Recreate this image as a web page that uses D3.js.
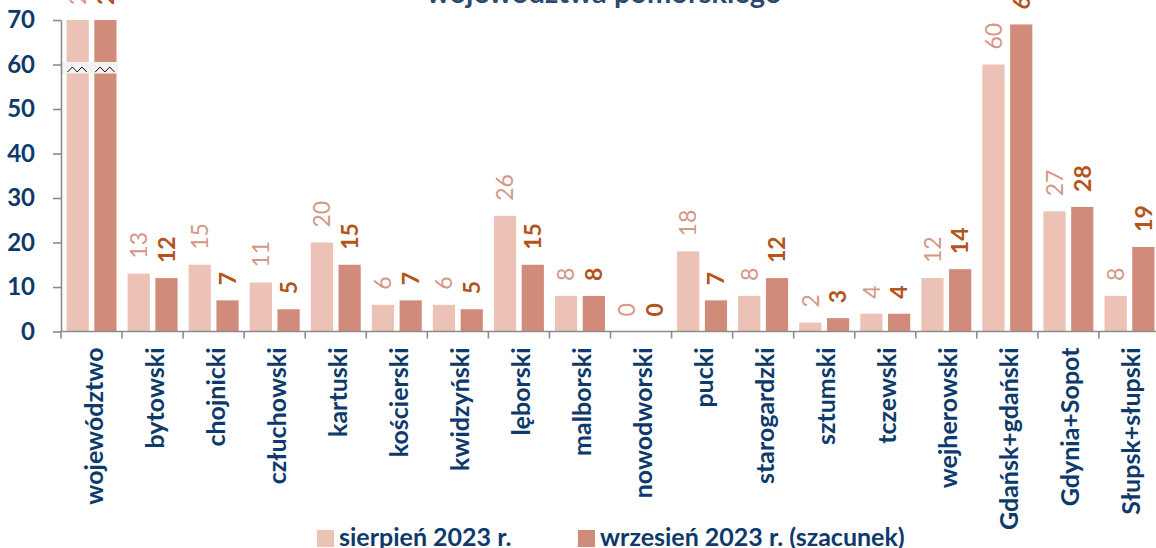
<!DOCTYPE html>
<html>
<head>
<meta charset="utf-8">
<script src="https://cdn.jsdelivr.net/npm/d3@7"></script>
<style>
  body { margin: 0; background: #fff; }
  svg { display: block; font-family: Lato, "Open Sans", sans-serif; }
</style>
</head>
<body>
<div id="chart"></div>
<script>
(function () {
  /* ----------------------- Data ----------------------- */
  const categories = [
    "województwo", "bytowski", "chojnicki", "człuchowski", "kartuski",
    "kościerski", "kwidzyński", "lęborski", "malborski", "nowodworski",
    "pucki", "starogardzki", "sztumski", "tczewski", "wejherowski",
    "Gdańsk+gdański", "Gdynia+Sopot", "Słupsk+słupski"
  ];
  const august = [244, 13, 15, 11, 20, 6, 6, 26, 8, 0, 18, 8, 2, 4, 12, 60, 27, 8];
  const september = [230, 12, 7, 5, 15, 7, 5, 15, 8, 0, 7, 12, 3, 4, 14, 69, 28, 19];
  const seriesNames = ["sierpień 2023 r.", "wrzesień 2023 r. (szacunek)"];
  const yTicks = [0, 10, 20, 30, 40, 50, 60, 70];
  const yMax = 70;
  const breakCategory = "województwo";

  /* ----------------------- Dimensions ----------------------- */
  const W = 1156, H = 548;
  const plot = { left: 61, right: 1160, top: 20, bottom: 331.5 };

  const barColors = ["#ecc1b6", "#d08b7a"];
  const labelColors = ["#d49888", "#b4541a"];
  const navy = "#0d3a6b";
  const axisGrey = "#8c8c8c";

  const svg = d3.select("#chart").append("svg")
    .attr("width", W).attr("height", H);

  const defs = svg.append("defs");
  defs.append("filter").attr("id", "soft")
    .attr("x", "-10%").attr("y", "-10%").attr("width", "120%").attr("height", "120%")
    .append("feGaussianBlur").attr("stdDeviation", 0.6);

  /* ----------------------- Scales ----------------------- */
  const x0 = d3.scaleBand().domain(categories).range([plot.left, plot.right]).padding(0);
  const x1 = d3.scaleBand().domain([0, 1]).range([0, x0.bandwidth()])
    .paddingInner(0.2).paddingOuter(0.2);
  const y = d3.scaleLinear().domain([0, yMax]).range([plot.bottom, plot.top]);

  const rows = categories.map((c, i) => ({ cat: c, vals: [august[i], september[i]] }));

  /* ----------------------- Title (cut at top) ----------------------- */
  svg.append("text")
    .attr("x", 604).attr("y", 3)
    .attr("text-anchor", "middle")
    .attr("font-size", 29).attr("font-weight", 700)
    .attr("fill", "#2b4a72")
    .text("województwa pomorskiego");

  /* ----------------------- Bars ----------------------- */
  const groups = svg.selectAll(".grp").data(rows).enter().append("g")
    .attr("class", "grp")
    .attr("transform", d => `translate(${x0(d.cat)},0)`);

  groups.selectAll("rect").data(d => d.vals.map((v, k) => ({ v, k }))).enter()
    .append("rect")
    .attr("x", d => x1(d.k))
    .attr("width", x1.bandwidth())
    .attr("y", d => y(Math.min(d.v, yMax)))
    .attr("height", d => y(0) - y(Math.min(d.v, yMax)))
    .attr("fill", d => barColors[d.k])
    .attr("filter", "url(#soft)");

  // value labels
  groups.selectAll(".val").data(d => d.vals.map((v, k) => ({ v, k }))).enter()
    .append("text")
    .attr("class", "val")
    .attr("transform", d =>
      `translate(${x1(d.k) + x1.bandwidth() / 2},${y(Math.min(d.v, yMax)) - 15}) rotate(-90)`)
    .attr("dy", "0.36em")
    .attr("text-anchor", "start")
    .attr("font-size", 23)
    .attr("font-weight", d => d.k === 1 ? 700 : 400)
    .attr("fill", d => labelColors[d.k])
    .text(d => d.v);

  /* ----------------------- Axis break ----------------------- */
  const bx = x0(breakCategory);
  const yb = y(60);
  svg.append("rect")
    .attr("x", bx - 1).attr("y", yb - 2.5)
    .attr("width", x0.bandwidth() - 3).attr("height", 11.5)
    .attr("fill", "#f2f2f2");
  const zig = d3.line();
  [0, 1].forEach(k => {
    const sx = bx + x1(k) + 1, w = x1.bandwidth() - 3;
    const pts = [0, 1, 2, 3, 4].map(j => [sx + j * w / 4, j % 2 ? yb + 2.5 : yb + 7.5]);
    svg.append("path").attr("d", zig(pts))
      .attr("fill", "none").attr("stroke", "#111").attr("stroke-width", 1);
  });

  /* ----------------------- Y axis ----------------------- */
  const yAxis = svg.append("g")
    .attr("transform", `translate(${plot.left},0)`)
    .call(d3.axisLeft(y).tickValues(yTicks).tickSize(8).tickSizeOuter(0).tickPadding(18));
  yAxis.select(".domain").attr("stroke", axisGrey).attr("stroke-width", 1.6);
  yAxis.selectAll(".tick line").attr("stroke", axisGrey).attr("stroke-width", 1.6);
  yAxis.selectAll(".tick text")
    .attr("font-family", "Lato, sans-serif")
    .attr("font-size", 24).attr("font-weight", 700).attr("fill", navy);

  /* ----------------------- X axis ----------------------- */
  const xAxis = svg.append("g");
  xAxis.append("line")
    .attr("x1", plot.left).attr("x2", plot.right)
    .attr("y1", y(0)).attr("y2", y(0))
    .attr("stroke", axisGrey).attr("stroke-width", 1.6);
  xAxis.selectAll(".xt").data(categories.concat([null])).enter().append("line")
    .attr("x1", (d, i) => d ? x0(d) : plot.right)
    .attr("x2", (d, i) => d ? x0(d) : plot.right)
    .attr("y1", y(0)).attr("y2", y(0) + 7)
    .attr("stroke", axisGrey).attr("stroke-width", 1.6);
  xAxis.selectAll(".xl").data(categories).enter().append("text")
    .attr("transform", d => `translate(${x0(d) + x0.bandwidth() / 2 + 2},${y(0) + 16}) rotate(-90)`)
    .attr("dy", "0.36em")
    .attr("text-anchor", "end")
    .attr("font-size", 25).attr("font-weight", 700).attr("fill", navy)
    .text(d => d);

  /* ----------------------- Legend ----------------------- */
  const legendX = [317, 578];
  const legend = svg.selectAll(".leg").data(seriesNames).enter().append("g")
    .attr("transform", (d, i) => `translate(${legendX[i]},530)`);
  legend.append("rect").attr("width", 17).attr("height", 17)
    .attr("fill", (d, i) => barColors[i]);
  legend.append("text")
    .attr("x", 22).attr("y", 16)
    .attr("font-size", 25).attr("font-weight", 700).attr("fill", navy)
    .text(d => d);
})();
</script>
</body>
</html>
